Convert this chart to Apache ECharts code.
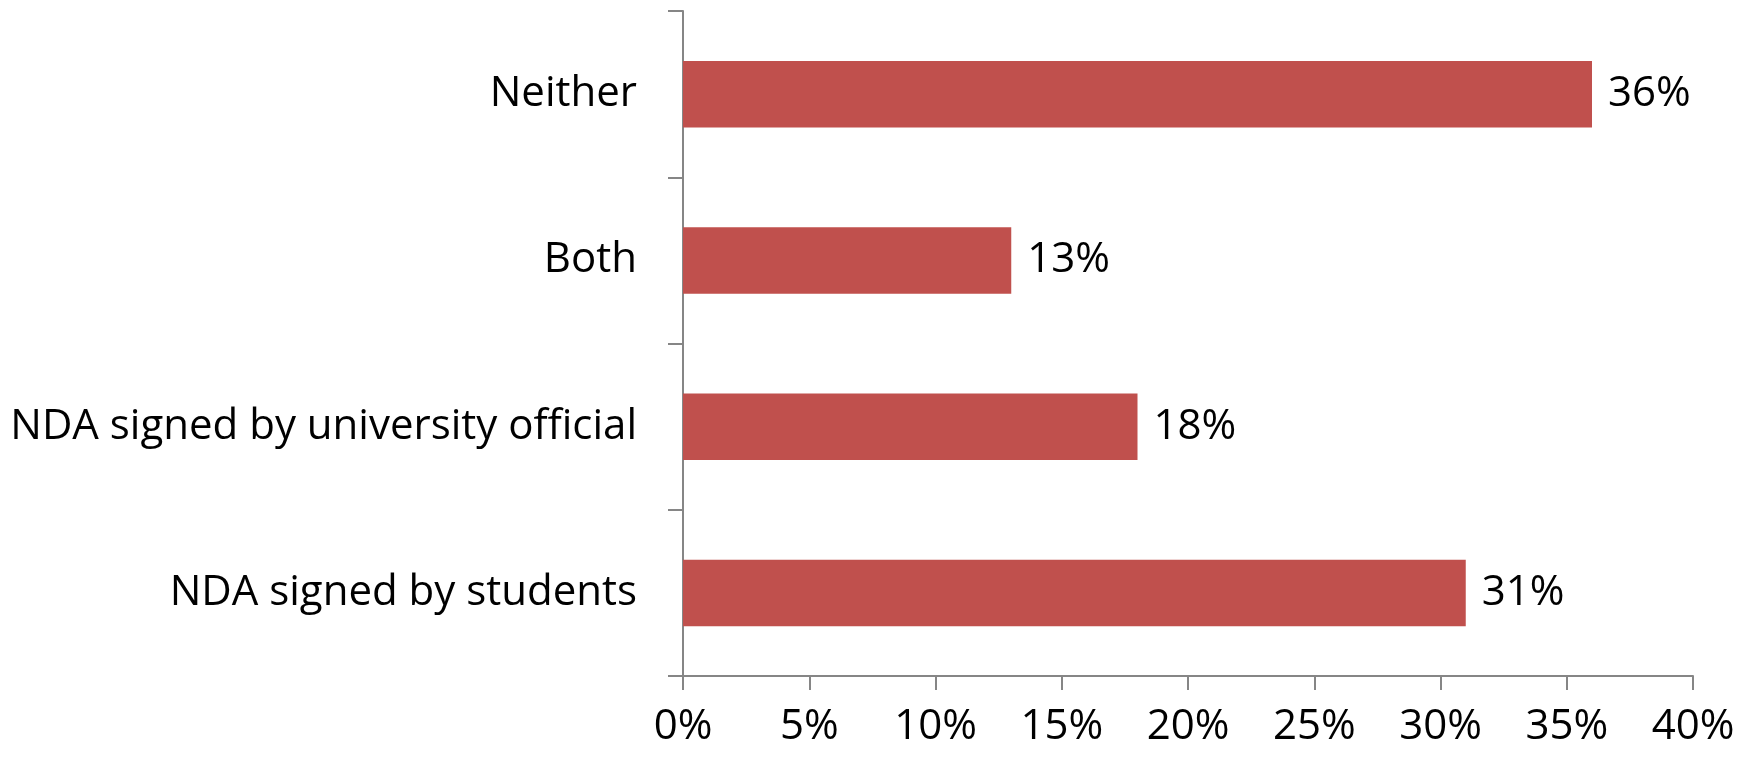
<!DOCTYPE html>
<html>
<head>
<meta charset="utf-8">
<script src="https://cdn.jsdelivr.net/npm/echarts@6/dist/echarts.min.js"></script>
<style>
  html, body { margin: 0; padding: 0; background: #fff; }
  #chart { width: 1752px; height: 758px; }
</style>
</head>
<body>
<div id="chart"></div>
<script>
// data (bottom to top, as the y axis runs)
const categories = [
  'NDA signed by students',
  'NDA signed by university official',
  'Both',
  'Neither'
];
const shares = [31, 18, 13, 36];
const xTicks = [0, 5, 10, 15, 20, 25, 30, 35, 40];

const axisGrey = '#868686';
const barRed = '#C0504D';
const font = 'Open Sans';

const chart = echarts.init(document.getElementById('chart'));

chart.setOption({
  animation: false,
  grid: { left: 683, right: 59, top: 11, bottom: 82 },
  xAxis: {
    type: 'value',
    min: xTicks[0],
    max: xTicks[xTicks.length - 1],
    interval: 5,
    splitLine: { show: false },
    axisLine: { show: true, lineStyle: { color: axisGrey, width: 2 } },
    axisTick: { show: true, length: 14, lineStyle: { color: axisGrey, width: 2 } },
    axisLabel: {
      color: '#000',
      fontFamily: font,
      fontSize: 42,
      margin: 30,
      formatter: v => `${v}%`
    }
  },
  yAxis: {
    type: 'category',
    data: categories,
    axisLine: { show: true, lineStyle: { color: axisGrey, width: 2 } },
    axisTick: { show: true, length: 15, lineStyle: { color: axisGrey, width: 2 } },
    axisLabel: {
      color: '#000',
      fontFamily: font,
      fontSize: 42,
      margin: 46
    }
  },
  series: [
    {
      type: 'bar',
      data: shares,
      barCategoryGap: '60%',
      itemStyle: { color: barRed },
      label: {
        show: true,
        position: 'right',
        distance: 16,
        color: '#000',
        fontFamily: font,
        fontSize: 42,
        formatter: p => `${p.value}%`
      }
    }
  ]
});
</script>
</body>
</html>
